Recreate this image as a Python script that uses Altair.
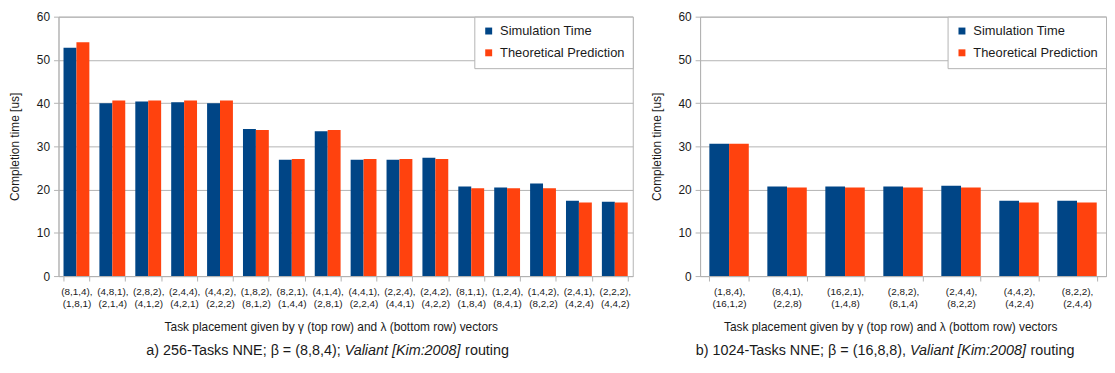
import altair as alt
import pandas as pd

series = ["Simulation Time", "Theoretical Prediction"]
colors = ["#004586", "#ff420e"]

gamma_a = ["(8,1,4)", "(4,8,1)", "(2,8,2)", "(2,4,4)", "(4,4,2)", "(1,8,2)", "(8,2,1)", "(4,1,4)",
           "(4,4,1)", "(2,2,4)", "(2,4,2)", "(8,1,1)", "(1,2,4)", "(1,4,2)", "(2,4,1)", "(2,2,2)"]
lambda_a = ["(1,8,1)", "(2,1,4)", "(4,1,2)", "(4,2,1)", "(2,2,2)", "(8,1,2)", "(1,4,4)", "(2,8,1)",
            "(2,2,4)", "(4,4,1)", "(4,2,2)", "(1,8,4)", "(8,4,1)", "(8,2,2)", "(4,2,4)", "(4,4,2)"]
sim_a = [52.8, 40.0, 40.4, 40.2, 40.0, 34.0, 26.9, 33.5, 26.9, 26.9, 27.35, 20.7, 20.5, 21.4, 17.4, 17.2]
theo_a = [54.1, 40.6, 40.6, 40.6, 40.6, 33.8, 27.1, 33.8, 27.1, 27.1, 27.1, 20.3, 20.3, 20.3, 17.0, 17.0]

gamma_b = ["(1,8,4)", "(8,4,1)", "(16,2,1)", "(2,8,2)", "(2,4,4)", "(4,4,2)", "(8,2,2)"]
lambda_b = ["(16,1,2)", "(2,2,8)", "(1,4,8)", "(8,1,4)", "(8,2,2)", "(4,2,4)", "(2,4,4)"]
sim_b = [30.6, 20.7, 20.7, 20.7, 20.9, 17.4, 17.4]
theo_b = [30.6, 20.5, 20.5, 20.5, 20.5, 17.0, 17.0]

caption_a = ["a) 256-Tasks NNE; β = (8,8,4);", "Valiant [Kim:2008]", "routing"]
caption_b = ["b) 1024-Tasks NNE; β = (16,8,8),", "Valiant [Kim:2008]", "routing"]

x_title = "Task placement given by γ (top row) and λ (bottom row) vectors"
y_title = "Completion time [us]"
y_ticks = [0, 10, 20, 30, 40, 50, 60]

FONT = "Liberation Sans"
GRAY = "#b3b3b3"
TXT = "#1a1a1a"
H = 262


def long_df(gam, lam, sim, theo):
    rows = []
    for g, l, s, t in zip(gam, lam, sim, theo):
        cat = g + ",|" + l
        rows.append({"cat": cat, "series": series[0], "value": s})
        rows.append({"cat": cat, "series": series[1], "value": t})
    return pd.DataFrame(rows)


def panel(df, cats, width, pin, pout, title_x, caption, cap_pos):
    bars = alt.Chart(df).mark_bar().encode(
        x=alt.X("cat:N", sort=cats,
                scale=alt.Scale(paddingInner=pin, paddingOuter=pout),
                axis=alt.Axis(title=x_title,
                              labelExpr="isString(datum.value) ? split(datum.value, '|') : ''",
                              labelAngle=0, labelFontSize=10, labelLineHeight=12,
                              labelBaseline="top", labelPadding=6, tickBand="extent",
                              tickSize=5, tickColor=GRAY, domainColor=GRAY,
                              labelColor=TXT, titleColor=TXT, titleFontSize=12,
                              titleFontWeight="normal", titlePadding=13, titleX=title_x,
                              labelFont=FONT, titleFont=FONT, grid=False)),
        xOffset=alt.XOffset("series:N", sort=series,
                            scale=alt.Scale(paddingInner=0, paddingOuter=0)),
        y=alt.Y("value:Q", scale=alt.Scale(domain=[0, 60], nice=False),
                axis=alt.Axis(title=y_title, values=y_ticks, grid=True, gridColor=GRAY,
                              tickSize=5, tickColor=GRAY, domainColor=GRAY,
                              labelPadding=4, labelFontSize=12, labelColor=TXT,
                              titleColor=TXT, titleFontSize=12, titleFontWeight="normal",
                              titlePadding=15, labelFont=FONT, titleFont=FONT)),
        color=alt.Color("series:N", sort=series,
                        scale=alt.Scale(domain=series, range=colors),
                        legend=alt.Legend(title=None, orient="top-right", offset=0,
                                          strokeColor=GRAY, fillColor="white",
                                          padding=8, rowPadding=8, symbolType="square",
                                          symbolSize=49, symbolStrokeWidth=0,
                                          labelFontSize=13, labelOffset=5,
                                          labelColor=TXT, labelFont=FONT)),
    )
    texts = []
    styles = [("right", "normal"), ("left", "italic"), ("left", "normal")]
    for txt, xp, (al, st) in zip(caption, cap_pos, styles):
        texts.append(
            alt.Chart(pd.DataFrame({"t": [txt]})).mark_text(
                align=al, baseline="alphabetic", fontSize=14.5, font=FONT,
                fontStyle=st, color=TXT
            ).encode(x=alt.value(xp), y=alt.value(H + 80), text="t:N")
        )
    return alt.layer(bars, *texts).properties(width=width, height=H)


df_a = long_df(gamma_a, lambda_a, sim_a, theo_a)
df_b = long_df(gamma_b, lambda_b, sim_b, theo_b)
cats_a = [g + ",|" + l for g, l in zip(gamma_a, lambda_a)]
cats_b = [g + ",|" + l for g, l in zip(gamma_b, lambda_b)]

left = panel(df_a, cats_a, 580, 0.28, 0.14, 275, caption_a, [285.0, 289.0, 410.7])
right = panel(df_b, cats_b, 410, 0.32, 0.16, 192, caption_b, [208.1, 212.1, 333.8])

chart = alt.hconcat(left, right, spacing=16).resolve_scale(
    color="independent", x="independent", xOffset="independent"
).resolve_legend(color="independent").configure(
    font=FONT, padding=0, background="white"
).configure_view(stroke=GRAY, strokeWidth=1)

chart.save("out.html", embed_options={"renderer": "svg", "actions": False})
